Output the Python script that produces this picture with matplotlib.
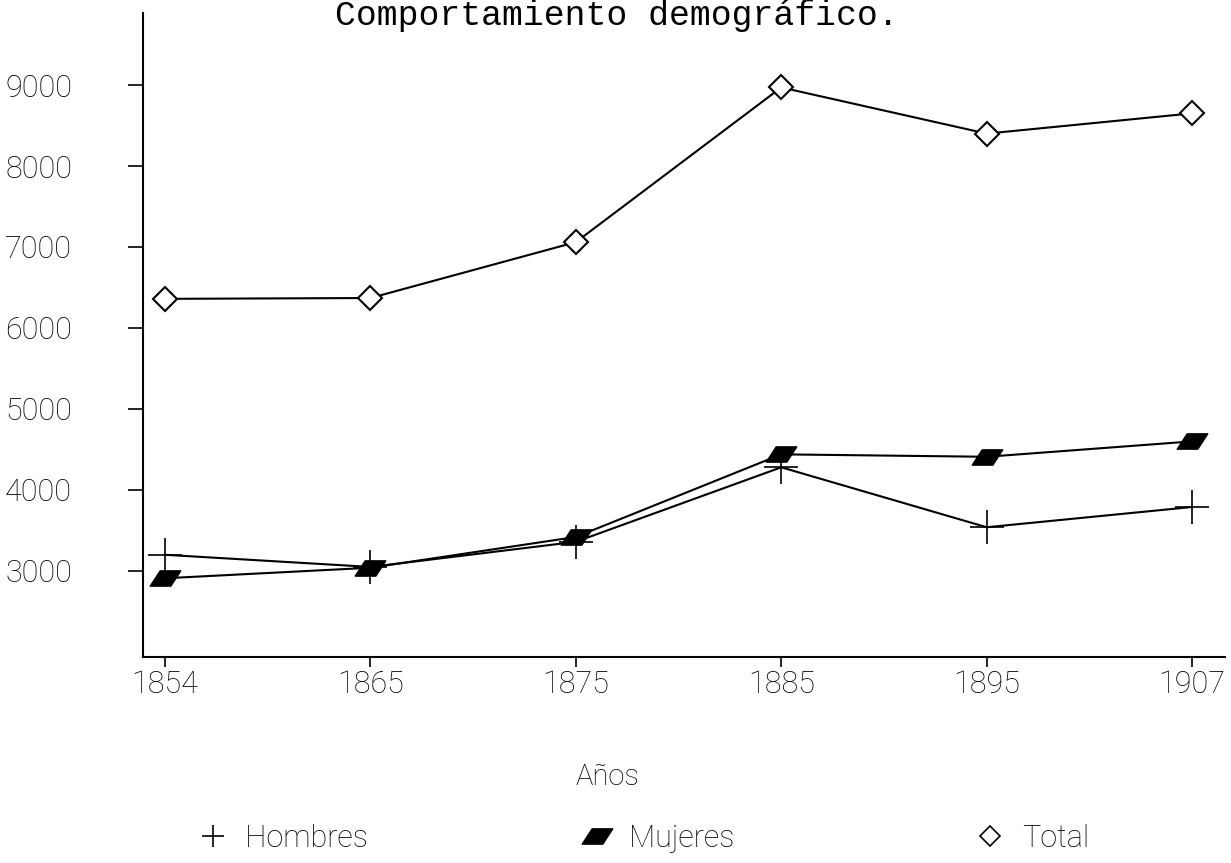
import matplotlib
matplotlib.use("Agg")
import matplotlib.pyplot as plt
from matplotlib.path import Path
from matplotlib.lines import Line2D

# data
years = ["1854", "1865", "1875", "1885", "1895", "1907"]
hombres = [3200, 3050, 3360, 4280, 3540, 3790]
mujeres = [2910, 3040, 3420, 4440, 4410, 4600]
total = [6360, 6370, 7060, 8970, 8400, 8650]
y_ticks = [3000, 4000, 5000, 6000, 7000, 8000, 9000]

SANS = ["Roboto", "DejaVu Sans"]
MONO = ["Liberation Mono", "DejaVu Sans Mono"]

# slanted filled parallelogram used for "Mujeres"
para = Path([(-1, -0.5), (0.35, -0.5), (1, 0.5), (-0.35, 0.5), (-1, -0.5)],
            [Path.MOVETO, Path.LINETO, Path.LINETO, Path.LINETO, Path.CLOSEPOLY])

W, H = 1231, 863
fig = plt.figure(figsize=(W / 100, H / 100), dpi=100)
ax = fig.add_axes([143 / W, 1 - 657 / H, (1225 - 143) / W, (657 - 13) / H])

x = list(range(len(years)))
ax.plot(x, hombres, color="black", lw=1.5, marker="+", ms=24, mew=1.2)
ax.plot(x, mujeres, color="black", lw=1.5, marker=para, ms=22, mfc="black", mec="black")
ax.plot(x, total, color="black", lw=1.5, marker="D", ms=12, mfc="white", mec="black", mew=1.5)

ax.set_xlim(-0.107, 5.16)
ax.set_ylim(1938, 9889)
ax.set_xticks(x)
ax.set_xticklabels(years, family=SANS, weight="light", fontsize=22)
ax.set_yticks(y_ticks)
ax.set_yticklabels([str(v) for v in y_ticks], family=SANS, weight="light", fontsize=22)
ax.tick_params(axis="x", length=7, width=1.2, pad=2)
ax.tick_params(axis="y", length=11, width=1.2, pad=40)

for side in ["top", "right"]:
    ax.spines[side].set_visible(False)
for side in ["left", "bottom"]:
    ax.spines[side].set_linewidth(1.5)

fig.text(617 / W, 1 - 25 / H, "Comportamiento demográfico.", family=MONO,
         fontsize=25, ha="center", va="baseline")
fig.text(607 / W, 1 - 785 / H, "Años", family=SANS, weight="light", fontsize=21,
         ha="center", va="baseline")

# legend entries placed one by one along the bottom
handles = [
    Line2D([], [], ls="none", color="black", marker="+", ms=16, mew=1.2),
    Line2D([], [], ls="none", color="black", marker=para, ms=22),
    Line2D([], [], ls="none", marker="D", ms=10, mfc="white", mec="black", mew=1.2),
]
labels = ["Hombres", "Mujeres", "Total"]
starts = [196, 580, 973]
for h, lab, sx in zip(handles, labels, starts):
    fig.legend([h], [lab], loc="center left", bbox_to_anchor=(sx / W, 1 - 838 / H),
               frameon=False, borderpad=0, borderaxespad=0, handlelength=1.1,
               handletextpad=0.5, prop={"family": SANS, "weight": "light", "size": 22})

fig.savefig("out.png", dpi=100)
